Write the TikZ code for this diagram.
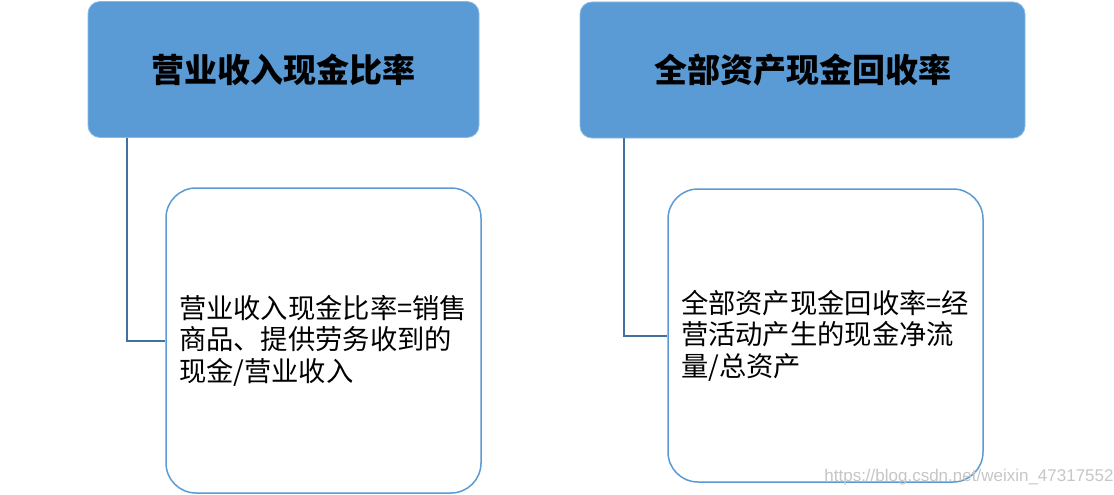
\documentclass[tikz,border=0pt]{standalone}
\usepackage{fontspec}
\newfontfamily\cjk{Noto Sans CJK SC}
\newfontfamily\wmfont{Liberation Sans}
\usetikzlibrary{calc}
\definecolor{headfill}{HTML}{5B9BD5}
\definecolor{boxline}{HTML}{5B9BD5}
\definecolor{conn}{HTML}{41719C}
\begin{document}
\begin{tikzpicture}[x=1pt,y=-1pt,
  header/.style={draw=headfill!70!white, line width=0.8pt, fill=headfill, rounded corners=12pt,
    minimum width=#1, minimum height=136pt, inner sep=0pt,
    font=\cjk\bfseries\fontsize{33}{38}\selectfont},
  child/.style={draw=boxline, line width=1.5pt, fill=white, rounded corners=30pt,
    minimum width=315pt, minimum height=#1, inner xsep=13pt, inner ysep=0pt,
    text width=289pt, align=left,
    font=\cjk\fontsize{27.3}{31.5}\selectfont},
  link/.style={draw=conn, line width=2pt}]
\useasboundingbox (0,0) rectangle (1114,495);
\node[header=391pt] (h1) at (283.5,69.5) {营业收入现金比率};
\node[header=445pt] (h2) at (802.5,70) {全部资产现金回收率};
\node[child=305pt] (c1) at (323.5,340.5) {营业收入现金比率=销售\\商品、提供劳务收到的\\现金/营业收入};
\node[child=293pt] (c2) at (825.5,335.5) {全部资产现金回收率=经\\营活动产生的现金净流\\量/总资产};
\draw[link] ($(h1.south west)+(39,0)$) |- (c1.west);
\draw[link] ($(h2.south west)+(44,0)$) |- (c2.west);
\node[text=gray!45, font=\wmfont\fontsize{17}{20}\selectfont, inner sep=0pt] (wm) at (969,477) {https://blog.csdn.net/weixin\_47317552};
\end{tikzpicture}
\end{document}
